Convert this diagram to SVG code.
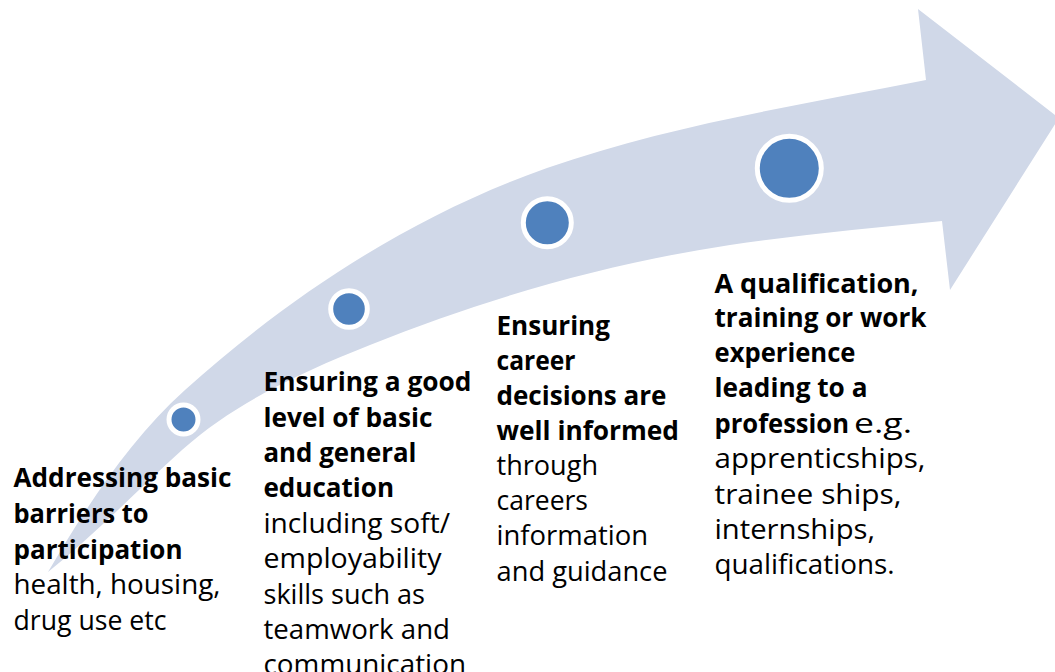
<svg xmlns="http://www.w3.org/2000/svg" width="1055" height="672" viewBox="0 0 1055 672">
<style>
.t{font-family:"Open Sans","Liberation Sans",sans-serif;font-size:27px;fill:#000}
.b{font-weight:bold}
.dot{fill:#4F81BD;stroke:#FFFFFF;stroke-width:5}
</style>
<rect width="1055" height="672" fill="#FFFFFF"/>
<g id="connectors">
<path id="arrow" fill="#D0D8E8" d="M48,572 C86.5,506.5 128.5,441 185,390 C290.5,295 413,215 547,168 C669.7,125.1 798.5,105.5 926,80 L918,9 L1059,118 L950,290 L942,221 C871.4,228.1 800.2,234.5 730,245 C606.4,263.5 486,298.6 370,345 C303.2,371.7 235.5,401.8 182,450 C137.4,490.1 95,534.5 48,572 Z"/>
</g>
<g id="dot1"><circle class="dot" cx="183.5" cy="419.5" r="14.5"/></g>
<g id="dot2"><circle class="dot" cx="349" cy="309" r="18.3"/></g>
<g id="dot3"><circle class="dot" cx="547.3" cy="222.8" r="24"/></g>
<g id="dot4"><circle class="dot" cx="789.3" cy="168.3" r="32"/></g>
<g id="step1">
<text class="t b" x="13.5" y="487" textLength="218" lengthAdjust="spacingAndGlyphs">Addressing basic</text>
<text class="t b" x="13.5" y="522.5" textLength="135" lengthAdjust="spacingAndGlyphs">barriers to</text>
<text class="t b" x="13.5" y="558.5" textLength="169" lengthAdjust="spacingAndGlyphs">participation</text>
<text class="t" x="13.5" y="594" textLength="207" lengthAdjust="spacingAndGlyphs">health, housing,</text>
<text class="t" x="13.5" y="630" textLength="153" lengthAdjust="spacingAndGlyphs">drug use etc</text>
</g>
<g id="step2">
<text class="t b" x="263.5" y="391" textLength="208" lengthAdjust="spacingAndGlyphs">Ensuring a good</text>
<text class="t b" x="263.5" y="426.5" textLength="169" lengthAdjust="spacingAndGlyphs">level of basic</text>
<text class="t b" x="263.5" y="462" textLength="153" lengthAdjust="spacingAndGlyphs">and general</text>
<text class="t b" x="263.5" y="497" textLength="130.5" lengthAdjust="spacingAndGlyphs">education</text>
<text class="t" x="263.5" y="532.5" textLength="186.5" lengthAdjust="spacingAndGlyphs">including soft/</text>
<text class="t" x="263.5" y="568" textLength="178" lengthAdjust="spacingAndGlyphs">employability</text>
<text class="t" x="263.5" y="603.5" textLength="161.5" lengthAdjust="spacingAndGlyphs">skills such as</text>
<text class="t" x="263.5" y="639" textLength="186.5" lengthAdjust="spacingAndGlyphs">teamwork and</text>
<text class="t" x="263.5" y="673.5" textLength="202.5" lengthAdjust="spacingAndGlyphs">communication</text>
</g>
<g id="step3">
<text class="t b" x="496.5" y="335" textLength="113.5" lengthAdjust="spacingAndGlyphs">Ensuring</text>
<text class="t b" x="496.5" y="369.5" textLength="79" lengthAdjust="spacingAndGlyphs">career</text>
<text class="t b" x="496.5" y="404.5" textLength="170" lengthAdjust="spacingAndGlyphs">decisions are</text>
<text class="t b" x="496.5" y="439.5" textLength="182.5" lengthAdjust="spacingAndGlyphs">well informed</text>
<text class="t" x="496.5" y="475" textLength="101.5" lengthAdjust="spacingAndGlyphs">through</text>
<text class="t" x="496.5" y="510" textLength="91.5" lengthAdjust="spacingAndGlyphs">careers</text>
<text class="t" x="496.5" y="545" textLength="151.5" lengthAdjust="spacingAndGlyphs">information</text>
<text class="t" x="496.5" y="580.5" textLength="171" lengthAdjust="spacingAndGlyphs">and guidance</text>
</g>
<g id="step4">
<text class="t b" x="714.5" y="292.5" textLength="204" lengthAdjust="spacingAndGlyphs">A qualification,</text>
<text class="t b" x="714.5" y="327" textLength="212" lengthAdjust="spacingAndGlyphs">training or work</text>
<text class="t b" x="714.5" y="362" textLength="141" lengthAdjust="spacingAndGlyphs">experience</text>
<text class="t b" x="714.5" y="397" textLength="153" lengthAdjust="spacingAndGlyphs">leading to a</text>
<text class="t b" x="714.5" y="432.5" textLength="134.5" lengthAdjust="spacingAndGlyphs">profession</text>
<text class="t" x="854" y="432.5" textLength="58" lengthAdjust="spacingAndGlyphs">e.g.</text>
<text class="t" x="714.5" y="468" textLength="211" lengthAdjust="spacingAndGlyphs">apprenticships,</text>
<text class="t" x="714.5" y="503.5" textLength="187" lengthAdjust="spacingAndGlyphs">trainee ships,</text>
<text class="t" x="714.5" y="538.5" textLength="160.5" lengthAdjust="spacingAndGlyphs">internships,</text>
<text class="t" x="714.5" y="573.5" textLength="180" lengthAdjust="spacingAndGlyphs">qualifications.</text>
</g>
</svg>
